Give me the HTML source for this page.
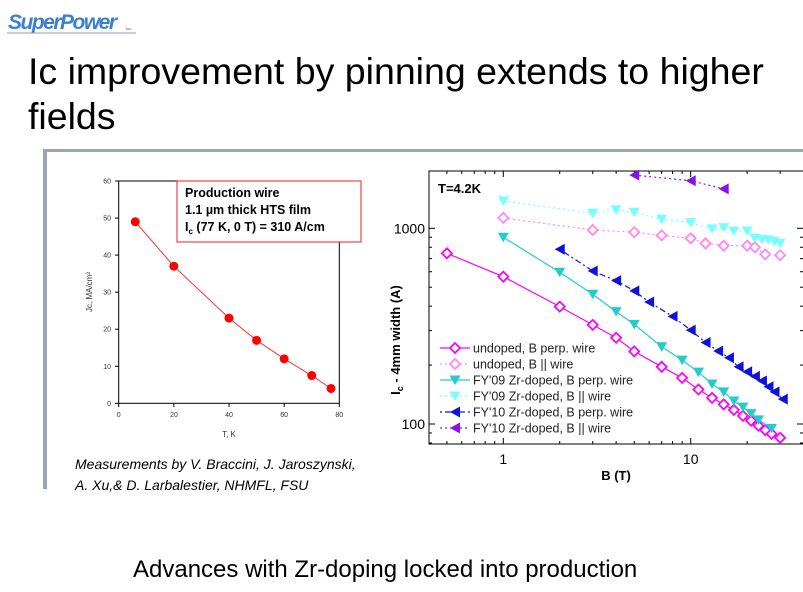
<!DOCTYPE html>
<html><head><meta charset="utf-8"><style>
body{margin:0;background:#fff;width:803px;height:587px;overflow:hidden;font-family:"Liberation Sans",sans-serif}
</style></head><body>
<svg id="s" width="803" height="587" xmlns="http://www.w3.org/2000/svg" font-family="Liberation Sans, sans-serif">
<text x="8" y="29" font-size="21" font-weight="bold" font-style="italic" fill="#3a7fd0" letter-spacing="-1.5">SuperPower</text>
<text x="126" y="30" font-size="4" fill="#555">Inc.</text>
<line x1="7" y1="33" x2="136" y2="33" stroke="#99a"/>
<text x="28" y="84" font-size="37.5">Ic improvement by pinning extends to higher</text>
<text x="28" y="129" font-size="37.5">fields</text>
<rect x="43" y="149" width="760" height="3" fill="#a0a3b8"/>
<rect x="43" y="149" width="4" height="340" fill="#a0a3b8"/>
<g id="left"></g>
<g id="right"></g>
<text x="75" y="469" font-size="14" font-style="italic">Measurements by V. Braccini, J. Jaroszynski,</text>
<text x="75" y="490" font-size="14" font-style="italic">A. Xu,&amp; D. Larbalestier, NHMFL, FSU</text>
<text x="133" y="577" font-size="24">Advances with Zr-doping locked into production</text>
</svg>
<script>
// Left chart data
const tempK=[6,20,40,50,60,70,77];
const jcVals=[49,37,23,17,12,7.5,4];
const leftXTicks=[0,20,40,60,80];
const leftYTicks=[0,10,20,30,40,50,60];
// Right chart data
const bUndPerp=[0.5,1,2,3,4,5,7,9,11,13,15,17,19,21,23,25,27,30];
const icUndPerp=[745,566,398,321,276,235,196,172,150,136,126,118,110,104,98,93,89,85];
const bUndPar=[1,3,5,7,10,12,15,20,22,25,30];
const icUndPar=[1130,980,955,920,889,838,815,815,800,736,728];
const b09Perp=[1,2,3,4,5,7,9,11,13,15,17,19,21,23,27];
const ic09Perp=[900,596,460,375,323,248,212,184,160,146,131,122,113,105,95];
const b09Par=[1,3,4,5,7,10,13,15,17,20,22,24,26,28,30];
const ic09Par=[1380,1194,1242,1208,1112,1069,993,1008,969,969,889,878,871,855,838];
const b10Perp=[2,3,4,5,6,8,10,12,14,16,18,20,22,24,26,28,31];
const ic10Perp=[781,605,540,479,420,355,302,261,236,218,196,185,175,166,155,146,134];
const b10Par=[5,10,15];
const ic10Par=[1870,1750,1590];
const legendLabels=["undoped, B perp. wire","undoped, B || wire","FY'09 Zr-doped, B perp. wire","FY'09 Zr-doped, B || wire","FY'10 Zr-doped, B perp. wire","FY'10 Zr-doped, B || wire"];

const NS="http://www.w3.org/2000/svg";
function mk(p,t,a){const e=document.createElementNS(NS,t);for(const k in a)e.setAttribute(k,a[k]);p.appendChild(e);return e;}
// Left chart
const L=document.getElementById('left');
const lx=v=>118.7+v*(339.3-118.7)/80, ly=v=>403.3-v*(403.3-181)/60;
let e=mk(L,'rect',{x:118.7,y:181,width:220.6,height:222.3,fill:'none',stroke:'#000','stroke-width':1});

leftXTicks.forEach(t=>{mk(L,'line',{x1:lx(t),x2:lx(t),y1:403.3,y2:407,stroke:'#000'});
 e=mk(L,'text',{x:lx(t),y:417,'font-size':7,'text-anchor':'middle',fill:'#333'});e.textContent=t;
 });
leftYTicks.forEach(t=>{mk(L,'line',{x1:115,x2:118.7,y1:ly(t),y2:ly(t),stroke:'#000'});
 e=mk(L,'text',{x:111,y:ly(t)+2.5,'font-size':7,'text-anchor':'end',fill:'#333'});e.textContent=t;
 });
e=mk(L,'text',{x:229,y:437,'font-size':8,'text-anchor':'middle',fill:'#333'});e.textContent='T, K';

e=mk(L,'text',{x:0,y:0,'font-size':8,'text-anchor':'middle',fill:'#333',transform:'translate(92,292) rotate(-90)'});e.textContent='Jc, MA/cm²';

e=mk(L,'polyline',{points:tempK.map((t,i)=>lx(t)+','+ly(jcVals[i])).join(' '),fill:'none',stroke:'#f33','stroke-width':1});

tempK.forEach((t,i)=>{e=mk(L,'circle',{cx:lx(t),cy:ly(jcVals[i]),r:4.5,fill:'#f00'});
 });
e=mk(L,'rect',{x:177,y:181,width:184,height:61,fill:'#fff',stroke:'#e22','stroke-width':1});

[['Production wire',197],['1.1 µm thick HTS film',214]].forEach(([s,y])=>{e=mk(L,'text',{x:185,y:y,'font-size':12.5,'font-weight':'bold'});e.textContent=s;
 });
e=mk(L,'text',{x:185,y:231,'font-size':12.5,'font-weight':'bold'});e.innerHTML='I<tspan font-size="8" dy="3">c</tspan><tspan dy="-3"> (77 K, 0 T) = 310 A/cm</tspan>';


// Right chart
const R=document.getElementById('right');
const X0=429,X1=803,Y0=171,Y1=444;
const rx=b=>503.3+Math.log10(b)*187.4, ry=v=>228.3+(3-Math.log10(v))*195.7;
e=mk(R,'rect',{x:X0,y:Y0,width:X1-X0+2,height:Y1-Y0,fill:'none',stroke:'#000','stroke-width':1});

for(let d=0.1;d<=10;d*=10)for(let m=1;m<10;m++){const b=d*m;const x=rx(b);if(x<X0||x>X1)continue;const L2=m==1?6:3;
 mk(R,'line',{x1:x,x2:x,y1:Y1,y2:Y1-L2,stroke:'#000'});mk(R,'line',{x1:x,x2:x,y1:Y0,y2:Y0+L2,stroke:'#000'});}
for(let d=10;d<=1000;d*=10)for(let m=1;m<10;m++){const v=d*m;const y=ry(v);if(y<Y0||y>Y1)continue;const L2=m==1?6:3;
 mk(R,'line',{x1:X0,x2:X0+L2,y1:y,y2:y,stroke:'#000'});mk(R,'line',{x1:X1,x2:X1-L2,y1:y,y2:y,stroke:'#000'});}
[[1,'1'],[10,'10']].forEach(([b,s])=>{e=mk(R,'text',{x:rx(b),y:464,'font-size':14,'text-anchor':'middle'});e.textContent=s;
 });
[[1000,'1000'],[100,'100']].forEach(([v,s])=>{e=mk(R,'text',{x:425,y:ry(v)+5,'font-size':14,'text-anchor':'end'});e.textContent=s;
 });
e=mk(R,'text',{x:616,y:480,'font-size':13,'font-weight':'bold','text-anchor':'middle'});e.textContent='B (T)';

e=mk(R,'text',{x:0,y:0,'font-size':13,'font-weight':'bold','text-anchor':'middle',transform:'translate(400,340) rotate(-90)'});e.innerHTML='I<tspan font-size="9" dy="3">c</tspan><tspan dy="-3"> - 4mm width (A)</tspan>';

e=mk(R,'text',{x:438,y:193,'font-size':13,'font-weight':'bold'});e.textContent='T=4.2K';


function marker(g,type,x,y,col){
 if(type=='dia') return mk(g,'polygon',{points:`${x},${y-5} ${x+5},${y} ${x},${y+5} ${x-5},${y}`,fill:'#fff',stroke:col,'stroke-width':1.8});
 if(type=='tri') return mk(g,'polygon',{points:`${x-5.5},${y-4.5} ${x+5.5},${y-4.5} ${x},${y+5}`,fill:col});
 return mk(g,'polygon',{points:`${x+5},${y-5.5} ${x+5},${y+5.5} ${x-5},${y}`,fill:col});
}
const series=[
 [bUndPerp,icUndPerp,'#f0f','dia',''],
 [bUndPar,icUndPar,'#f8e','dia','2,3'],
 [b09Perp,ic09Perp,'#2cc','tri',''],
 [b09Par,ic09Par,'#7ff','tri','2,3'],
 [b10Perp,ic10Perp,'#11d','left','2,3,6,3'],
 [b10Par,ic10Par,'#81e','left','2,3'],
];
const snames=['undoped-perp','undoped-par','fy09-perp','fy09-par','fy10-perp','fy10-par'];
series.forEach(([bs,vs,col,mt,da],k)=>{
 const g=mk(R,'g',{});
 
 
 mk(g,'polyline',{points:bs.map((b,i)=>rx(b)+','+ry(vs[i])).join(' '),fill:'none',stroke:col,'stroke-width':1.2,'stroke-dasharray':da});
 bs.forEach((b,i)=>{const m=marker(g,mt,rx(b),ry(vs[i]),col);
  
  });
 const ly2=348+k*16, lg=mk(R,'g',{});
 
 
 mk(lg,'line',{x1:440,x2:470,y1:ly2,y2:ly2,stroke:col,'stroke-width':1.2,'stroke-dasharray':da});
 marker(lg,mt,455,ly2,col);
 const t=mk(lg,'text',{x:473,y:ly2+4.5,'font-size':12.5,fill:'#222'});t.textContent=legendLabels[k];
});
</script>
</body></html>
